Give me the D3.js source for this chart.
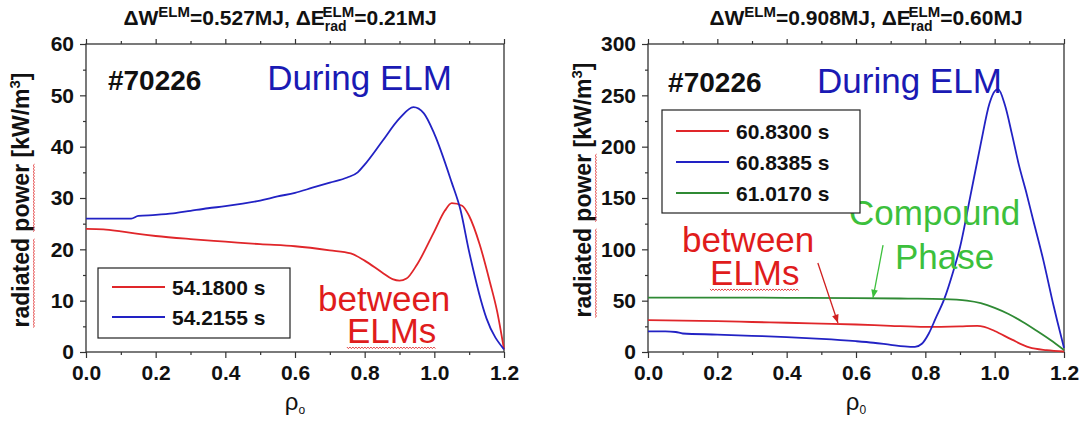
<!DOCTYPE html>
<html>
<head>
<meta charset="utf-8">
<script src="https://cdn.jsdelivr.net/npm/d3@7"></script>
<style>
  body { margin: 0; background: #fff; }
  text { font-family: "Liberation Sans", Arial, sans-serif; }
</style>
</head>
<body>
<svg id="chart" width="1084" height="421"></svg>
<script>
// ---- data: [rho, radiated power] ----
const red541800 = [[0,24],[0.05,23.9],[0.1,23.5],[0.15,23],[0.2,22.6],[0.3,22],[0.4,21.5],[0.5,21],
  [0.6,20.6],[0.7,19.8],[0.76,19.2],[0.8,17.8],[0.85,15.5],[0.88,14.2],[0.9,13.9],[0.92,14.3],
  [0.95,17],[1.0,23.5],[1.03,27.5],[1.05,29],[1.08,28.5],[1.1,26.5],[1.13,21],[1.16,13.5],[1.18,8],[1.2,0.5]];
const blue542155 = [[0,26],[0.05,26],[0.13,26],[0.15,26.5],[0.2,26.7],[0.25,27],[0.3,27.5],[0.35,28],
  [0.4,28.4],[0.45,28.9],[0.5,29.5],[0.55,30.3],[0.6,31],[0.65,32],[0.7,33],[0.75,34],[0.78,35],
  [0.8,36.5],[0.85,41],[0.9,45.5],[0.94,47.7],[0.97,46.5],[1.0,42.5],[1.05,33],[1.075,27.7],
  [1.1,19.5],[1.15,6.5],[1.2,0.5]];

const red608300 = [[0,31],[0.1,30.5],[0.2,30],[0.3,29.2],[0.4,28.5],[0.5,27.7],[0.6,26.8],[0.7,25.5],
  [0.8,24.5],[0.9,25],[0.95,25.5],[0.97,24.5],[1.0,20.5],[1.05,12],[1.1,4.5],[1.15,1.8],[1.2,0.5]];
const blue608385 = [[0,20],[0.05,20],[0.08,19.5],[0.1,18],[0.2,17],[0.3,15.8],[0.4,14.5],[0.5,12.8],
  [0.6,10.5],[0.65,9],[0.7,7],[0.74,5.5],[0.77,5],[0.79,8],[0.81,18],[0.83,33],[0.855,52],[0.88,78],
  [0.9,102],[0.93,152],[0.96,203],[0.985,242],[1.0,254],[1.01,256],[1.03,240],[1.05,212],[1.07,182],
  [1.09,157],[1.11,130],[1.14,90],[1.17,45],[1.18,31],[1.2,4]];
const green610170 = [[0,53],[0.2,53],[0.4,52.8],[0.6,52.5],[0.75,52],[0.85,51.5],[0.92,50],[0.96,47.5],
  [1.0,43],[1.04,37],[1.08,29.5],[1.12,21],[1.16,12],[1.2,2]];

const xTicks = [0, 0.2, 0.4, 0.6, 0.8, 1.0, 1.2];
const xMinor = [0.1, 0.3, 0.5, 0.7, 0.9, 1.1];
const yTicksA = [0, 10, 20, 30, 40, 50, 60];
const yMinorA = [5, 15, 25, 35, 45, 55];
const yTicksB = [0, 50, 100, 150, 200, 250, 300];
const yMinorB = [25, 75, 125, 175, 225, 275];

const RED = "#e0262a", BLUE = "#2222c4", GREEN = "#2f8a34";

const svg = d3.select("#chart");

function squiggle(g, x1, x2, y) {
  let d = "M" + x1 + "," + y;
  let k = 0;
  for (let x = x1 + 1.5; x <= x2; x += 1.5) {
    d += "L" + x + "," + (y + (k++ % 2 ? 0 : 1.6));
  }
  g.append("path").attr("d", d).attr("fill", "none")
    .attr("stroke", "#e03030").attr("stroke-width", 0.9);
}

function drawPanel(p) {
  const x = d3.scaleLinear().domain([0, 1.2]).range([p.left, p.right]);
  const y = d3.scaleLinear().domain([0, p.yMax]).range([352, 44]);
  const g = svg.append("g");

  // frame
  g.append("rect").attr("x", p.left).attr("y", 44)
    .attr("width", p.right - p.left).attr("height", 308)
    .attr("fill", "none").attr("stroke", "#333").attr("stroke-width", 1.3);

  // axes
  const fmt = d3.format(".1f");
  g.append("g").attr("transform", `translate(0,352)`)
    .call(d3.axisBottom(x).tickValues(xTicks).tickSize(6).tickPadding(7).tickFormat(fmt));
  g.append("g").attr("transform", `translate(0,352)`)
    .call(d3.axisBottom(x).tickValues(xMinor).tickSize(3).tickFormat(""));
  g.append("g").attr("transform", `translate(0,44)`)
    .call(d3.axisTop(x).tickValues(xTicks).tickSize(5).tickFormat(""));
  g.append("g").attr("transform", `translate(0,44)`)
    .call(d3.axisTop(x).tickValues(xMinor).tickSize(3).tickFormat(""));
  g.append("g").attr("transform", `translate(${p.left},0)`)
    .call(d3.axisLeft(y).tickValues(p.yTicks).tickSize(6).tickPadding(6));
  g.append("g").attr("transform", `translate(${p.left},0)`)
    .call(d3.axisLeft(y).tickValues(p.yMinor).tickSize(3).tickFormat(""));
  g.selectAll(".domain").remove();
  g.selectAll(".tick line").attr("stroke", "#333").attr("stroke-width", 1.2);
  g.selectAll(".tick text").attr("font-size", 21).attr("font-weight", "bold")
    .attr("fill", "#111").attr("font-family", '"Liberation Sans", Arial, sans-serif');

  // curves
  const line = d3.line().x(d => x(d[0])).y(d => y(d[1])).curve(d3.curveMonotoneX);
  p.series.forEach(s => {
    g.append("path").datum(s.values).attr("d", line)
      .attr("fill", "none").attr("stroke", s.color).attr("stroke-width", 1.8);
  });

  // title
  const t = g.append("text").attr("x", p.titleX).attr("y", 25)
    .attr("text-anchor", "middle").attr("font-size", 21).attr("font-weight", "bold").attr("fill", "#111");
  t.append("tspan").text("\u0394W");
  t.append("tspan").attr("font-size", 15).attr("dy", -8).text("ELM");
  t.append("tspan").attr("dy", 8).text("=" + p.dW + "MJ, \u0394E");
  t.append("tspan").attr("font-size", 14).attr("dy", 6).text("rad");
  t.append("tspan").attr("font-size", 15).attr("dy", -14).attr("dx", -24).text("ELM");
  t.append("tspan").attr("dy", 8).text("=" + p.dE + "MJ");

  // y label
  const yl = g.append("g").attr("transform", `translate(${p.ylabX},${p.ylabY}) rotate(-90)`);
  const ylt = yl.append("text").attr("text-anchor", "middle").attr("font-size", 23)
    .attr("font-weight", "bold").attr("fill", "#111");
  ylt.append("tspan").text("radiated power [kW/m");
  ylt.append("tspan").attr("font-size", 15).attr("dy", -9).text("3");
  ylt.append("tspan").attr("dy", 9).text("]");
  const n = ylt.node();
  const bb = n.getBBox();
  const w1 = n.getSubStringLength(0, 8);
  const s2 = n.getStartPositionOfChar(9).x;
  const w2 = n.getSubStringLength(9, 5);
  squiggle(yl, bb.x, bb.x + w1, 4);
  squiggle(yl, s2, s2 + w2, 4);

  // x label
  const xl = g.append("text").attr("x", (p.left + p.right) / 2).attr("y", 410)
    .attr("text-anchor", "middle").attr("font-size", 24).attr("fill", "#111");
  xl.append("tspan").text("\u03c1");
  xl.append("tspan").attr("font-size", 12).attr("dy", 4).text(p.sub);

  // annotations (positioned in data units)
  p.notes.forEach(a => {
    const tx = g.append("text").attr("x", x(a.r)).attr("y", y(a.v))
      .attr("font-size", a.size).attr("font-weight", a.bold ? "bold" : "normal")
      .attr("fill", a.color).text(a.text);
    if (a.wavy) {
      const w = tx.node().getComputedTextLength();
      squiggle(g, x(a.r), x(a.r) + w, y(a.v) + 4);
    }
  });
  (p.arrows || []).forEach(a => {
    const x1 = x(a.from[0]), y1 = y(a.from[1]), x2 = x(a.to[0]), y2 = y(a.to[1]);
    const ang = Math.atan2(y2 - y1, x2 - x1);
    g.append("line").attr("x1", x1).attr("y1", y1).attr("x2", x2).attr("y2", y2)
      .attr("stroke", a.color).attr("stroke-width", 1.3);
    const L = 9, Wd = 0.38;
    g.append("path").attr("d",
      `M${x2},${y2}L${x2 - L * Math.cos(ang - Wd)},${y2 - L * Math.sin(ang - Wd)}` +
      `L${x2 - L * Math.cos(ang + Wd)},${y2 - L * Math.sin(ang + Wd)}Z`)
      .attr("fill", a.color);
  });

  // legend
  const lg = g.append("g");
  lg.append("rect").attr("x", p.legend.x).attr("y", p.legend.y)
    .attr("width", p.legend.w).attr("height", p.legend.h)
    .attr("fill", "#fff").attr("stroke", "#222").attr("stroke-width", 1.2);
  p.series.forEach((s, i) => {
    const ly = p.legend.y + p.legend.first + i * p.legend.step;
    lg.append("line").attr("x1", p.legend.x + 14).attr("x2", p.legend.x + 67)
      .attr("y1", ly).attr("y2", ly).attr("stroke", s.color).attr("stroke-width", 1.8);
    lg.append("text").attr("x", p.legend.x + 74).attr("y", ly + 7.5)
      .attr("font-size", 21).attr("font-weight", "bold").attr("fill", "#111").text(s.label);
  });
}

drawPanel({
  left: 86, right: 504, yMax: 60, yTicks: yTicksA, yMinor: yMinorA,
  titleX: 280, dW: "0.527", dE: "0.21", ylabX: 29, ylabY: 200, sub: "o",
  series: [
    { label: "54.1800 s", color: RED, values: red541800 },
    { label: "54.2155 s", color: BLUE, values: blue542155 }
  ],
  legend: { x: 98, y: 268, w: 192, h: 70, first: 19, step: 30 },
  notes: [
    { text: "#70226", r: 0.063, v: 51, size: 28, bold: true, color: "#111" },
    { text: "During ELM", r: 0.52, v: 51, size: 35, color: "#1a1ab4" },
    { text: "between", r: 0.666, v: 8, size: 35, color: "#e01c1c" },
    { text: "ELMs", r: 0.749, v: 1.75, size: 35, color: "#e01c1c", wavy: true }
  ]
});

drawPanel({
  left: 648, right: 1064, yMax: 300, yTicks: yTicksB, yMinor: yMinorB,
  titleX: 866, dW: "0.908", dE: "0.60", ylabX: 591, ylabY: 190, sub: "0",
  series: [
    { label: "60.8300 s", color: RED, values: red608300 },
    { label: "60.8385 s", color: BLUE, values: blue608385 },
    { label: "61.0170 s", color: GREEN, values: green610170 }
  ],
  legend: { x: 662, y: 110, w: 198, h: 103, first: 21, step: 31 },
  notes: [
    { text: "#70226", r: 0.058, v: 253, size: 28, bold: true, color: "#111" },
    { text: "During ELM", r: 0.4875, v: 252, size: 35, color: "#1a1ab4" },
    { text: "Compound", r: 0.58, v: 123.7, size: 35, color: "#3cc03c" },
    { text: "Phase", r: 0.7125, v: 80.8, size: 35, color: "#3cc03c" },
    { text: "between", r: 0.098, v: 97.4, size: 35, color: "#e01c1c" },
    { text: "ELMs", r: 0.179, v: 65.3, size: 35, color: "#e01c1c", wavy: true }
  ],
  arrows: [
    { from: [0.49, 86.7], to: [0.548, 28.2], color: "#d02020" },
    { from: [0.678, 104], to: [0.649, 52.6], color: "#3cc03c" }
  ]
});
</script>
</body>
</html>
